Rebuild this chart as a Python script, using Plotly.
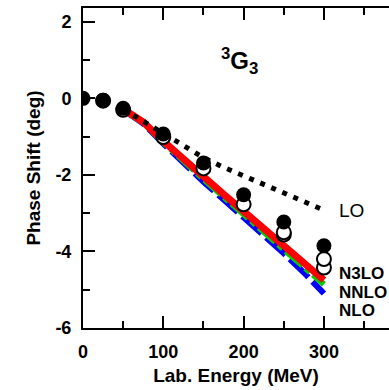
import plotly.graph_objects as go

# ---- data ----
energy_pts = [0, 25, 50, 100, 150, 200, 250, 300]
pwa_filled = [0.0, -0.05, -0.26, -0.93, -1.69, -2.52, -3.23, -3.85]

open_a_e = [25, 50, 100, 150, 200, 250, 300]
open_a = [-0.06, -0.30, -1.01, -1.83, -2.77, -3.50, -4.20]
open_b_e = [250, 300]
open_b = [-3.56, -4.42]

energy_curve = [50, 75, 100, 125, 150, 175, 200, 225, 250, 275, 300]
lo = [-0.28, -0.60, -0.92, -1.25, -1.55, -1.80, -2.03, -2.26, -2.48, -2.70, -2.92]
nlo = [-0.30, -0.66, -1.18, -1.70, -2.18, -2.64, -3.10, -3.55, -4.05, -4.55, -5.10]
nnlo = [-0.29, -0.64, -1.15, -1.65, -2.11, -2.57, -3.03, -3.49, -3.95, -4.40, -4.86]
n3lo = [-0.28, -0.62, -1.12, -1.60, -2.05, -2.50, -2.95, -3.40, -3.85, -4.30, -4.75]

x_ticks = [0, 100, 200, 300]
x_tick_text = ["0", "100", "200", "300"]
y_ticks = [2, 0, -2, -4, -6]
y_tick_text = ["2", "0", "-2", "-4", "-6"]

FONT = "Liberation Sans, Arial, Helvetica, sans-serif"

fig = go.Figure()

fig.add_trace(go.Scatter(x=energy_curve, y=nlo, mode="lines",
                         line=dict(color="#0000ff", width=6, dash="26px,6px")))
fig.add_trace(go.Scatter(x=energy_curve, y=nnlo, mode="lines",
                         line=dict(color="#00d000", width=6, dash="22px,4px,6px,4px")))
fig.add_trace(go.Scatter(x=energy_curve, y=n3lo, mode="lines",
                         line=dict(color="#ff0000", width=7)))
fig.add_trace(go.Scatter(x=energy_curve, y=lo, mode="lines",
                         line=dict(color="black", width=5, dash="5px,7px")))

fig.add_trace(go.Scatter(x=open_b_e, y=open_b, mode="markers",
                         marker=dict(size=14, color="white", line=dict(color="black", width=2))))
fig.add_trace(go.Scatter(x=open_a_e, y=open_a, mode="markers",
                         marker=dict(size=14, color="white", line=dict(color="black", width=2))))
fig.add_trace(go.Scatter(x=energy_pts, y=pwa_filled, mode="markers",
                         marker=dict(size=15, color="black", line=dict(color="black", width=0))))

annots = [
    dict(x=195, y=0.97, text="<sup>3</sup>G<sub>3</sub>", font=dict(size=24, weight="bold")),
    dict(x=316, y=-2.92, text="LO", font=dict(size=19, weight="normal")),
    dict(x=316, y=-4.57, text="N3LO", font=dict(size=17, weight="bold")),
    dict(x=316, y=-5.06, text="NNLO", font=dict(size=17, weight="bold")),
    dict(x=316, y=-5.53, text="NLO", font=dict(size=17, weight="bold")),
]
for i, a in enumerate(annots):
    a["font"]["family"] = FONT
    a["font"]["color"] = "black"
    fig.add_annotation(xref="x", yref="y", showarrow=False, yanchor="middle",
                       xanchor="center" if i == 0 else "left", **a)

fig.update_layout(
    width=389, height=390,
    margin=dict(l=83, r=0, t=8, b=62),
    paper_bgcolor="white", plot_bgcolor="white",
    showlegend=False,
    font=dict(family=FONT, size=18, color="black", weight="bold"),
)
fig.update_xaxes(
    range=[0, 381], tickvals=x_ticks, ticktext=x_tick_text,
    ticks="inside", ticklen=12, tickwidth=1.5, tickcolor="black",
    minor=dict(dtick=50, tick0=0, ticks="inside", ticklen=7, tickwidth=1.5, tickcolor="black"),
    showline=True, linecolor="black", linewidth=2, mirror="ticks",
    showgrid=False, zeroline=False, ticklabelstandoff=6,
    tickfont=dict(size=18, family=FONT, weight="bold"),
    title=dict(text="Lab. Energy (MeV)", font=dict(size=19, family=FONT, weight="bold"), standoff=8),
)
fig.update_yaxes(
    range=[-6, 2.36], tickvals=y_ticks, ticktext=y_tick_text,
    ticks="inside", ticklen=12, tickwidth=1.5, tickcolor="black",
    minor=dict(dtick=1, tick0=0, ticks="inside", ticklen=7, tickwidth=1.5, tickcolor="black"),
    showline=True, linecolor="black", linewidth=2, mirror=False,
    showgrid=False, zeroline=False, ticklabelstandoff=6,
    tickfont=dict(size=18, family=FONT, weight="bold"),
    title=dict(text="Phase Shift (deg)", font=dict(size=19, family=FONT, weight="bold"), standoff=10),
)

fig.write_html("out.html")
